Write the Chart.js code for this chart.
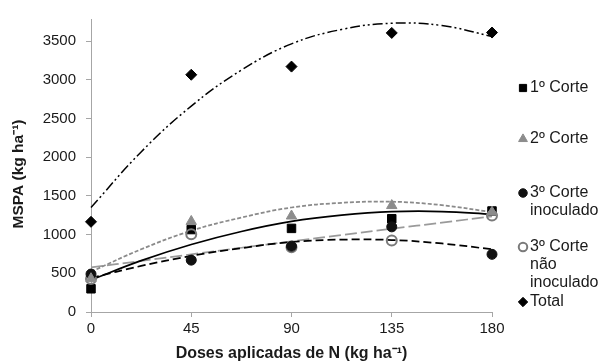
<!DOCTYPE html>
<html>
<head>
<meta charset="utf-8">
<script src="https://cdn.jsdelivr.net/npm/chart.js@4"></script>
<style>
  html, body { margin: 0; padding: 0; background: #fff; }
  #wrap { width: 601px; height: 363px; position: relative; }
</style>
</head>
<body>
<div id="wrap"><canvas id="chart"></canvas></div>
<script>
// === DADOS ===
const doses = [0, 45, 90, 135, 180];
const corte1 = [300, 1065, 1080, 1205, 1305];
const corte2 = [430, 1170, 1240, 1375, 1290];
const corte3Inoc = [490, 670, 850, 1100, 745];
const corte3NaoInoc = [425, 1005, 835, 925, 1245];
const total = [1165, 3065, 3170, 3605, 3610];

// linhas de tendência
const trendX = [0, 22.5, 45, 67.5, 90, 112.5, 135, 157.5, 180];
const trend1 = [413, 663, 872, 1040, 1170, 1251, 1296, 1298, 1262];
const trend2 = [520, 810, 1050, 1220, 1350, 1410, 1425, 1380, 1290];
const trend3Inoc = [440, 595, 725, 825, 905, 935, 930, 885, 810];
const trend3Nao = [575, 660, 745, 830, 912, 995, 1075, 1155, 1235];
const trendTotal = [1350, 2068, 2660, 3125, 3464, 3650, 3730, 3700, 3560];

const xTicks = [0, 45, 90, 135, 180];
const yTicks = [0, 500, 1000, 1500, 2000, 2500, 3000, 3500];

const legendLabels = [
    ['1º Corte'],
    ['2º Corte'],
    ['3º Corte', 'inoculado'],
    ['3º Corte', 'não', 'inoculado'],
    ['Total']
];

const FONT = '"Liberation Sans", Arial, sans-serif';
Chart.defaults.font.family = FONT;
Chart.defaults.color = '#1a1a1a';

const pts = (xs, ys) => xs.map((x, i) => ({ x: x, y: ys[i] }));

const markerStyles = [
    { pointStyle: 'rect', radius: 6, bg: '#000', border: '#000', bw: 1 },
    { pointStyle: 'triangle', radius: 6, bg: '#8c8c8c', border: '#8c8c8c', bw: 1 },
    { pointStyle: 'circle', radius: 5, bg: '#111', border: '#111', bw: 1 },
    { pointStyle: 'circle', radius: 5, bg: 'rgba(255,255,255,0)', border: '#7a7a7a', bw: 2 },
    { pointStyle: 'rectRot', radius: 5.5, bg: '#000', border: '#000', bw: 1 }
];

function scatterSet(ys, m) {
    return {
        data: pts(doses, ys), showLine: false, clip: false,
        pointStyle: m.pointStyle, pointRadius: m.radius,
        pointBackgroundColor: m.bg, pointBorderColor: m.border, pointBorderWidth: m.bw
    };
}
function trendSet(ys, color, dash, width) {
    return {
        data: pts(trendX, ys), showLine: true, pointRadius: 0, clip: false,
        borderColor: color, borderWidth: width, borderDash: dash, tension: 0.4, fill: false
    };
}

// === LEGENDA + TÍTULO Y ===
const legendPos = [88, 139, 193, 247, 302];
const legendPlugin = {
    id: 'legendaLateral',
    afterDraw(chart) {
        const ctx = chart.ctx;
        ctx.save();
        ctx.font = '16px ' + FONT;
        ctx.textBaseline = 'middle';
        legendLabels.forEach((lines, i) => {
            const m = markerStyles[i];
            const y0 = legendPos[i];
            ctx.fillStyle = m.bg;
            ctx.strokeStyle = m.border;
            ctx.lineWidth = m.bw;
            Chart.helpers.drawPoint(ctx, { pointStyle: m.pointStyle, radius: m.radius * 0.85, borderWidth: m.bw, rotation: 0 }, 523, y0);
            ctx.fillStyle = '#1a1a1a';
            lines.forEach((t, j) => ctx.fillText(t, 530, y0 + j * 18));
        });
        ctx.restore();

        // título do eixo Y (um pouco abaixo do centro, como no original)
        ctx.save();
        ctx.translate(19, 174);
        ctx.rotate(-Math.PI / 2);
        ctx.font = 'bold 15.5px ' + FONT;
        ctx.fillStyle = '#1a1a1a';
        ctx.textAlign = 'center';
        ctx.textBaseline = 'middle';
        ctx.fillText('MSPA (kg ha⁻¹)', 0, 0);
        ctx.restore();
    }
};

new Chart(document.getElementById('chart'), {
    type: 'scatter',
    data: {
        datasets: [
            scatterSet(corte2, markerStyles[1]),
            scatterSet(corte3Inoc, markerStyles[2]),
            scatterSet(corte3NaoInoc, markerStyles[3]),
            scatterSet(corte1, markerStyles[0]),
            scatterSet(total, markerStyles[4]),
            trendSet(trend1, '#000', [], 1.75),
            trendSet(trend2, '#8a8a8a', [4, 2], 1.75),
            trendSet(trend3Inoc, '#000', [8, 4], 1.75),
            trendSet(trend3Nao, '#9a9a9a', [12, 4], 1.75),
            trendSet(trendTotal, '#000', [10, 3, 2, 3, 2, 3], 1.5)
        ]
    },
    options: {
        responsive: true,
        maintainAspectRatio: false,
        animation: false,
        devicePixelRatio: 1,
        events: [],
        layout: { padding: { left: 0, right: 109, top: 15, bottom: 0 } },
        plugins: { legend: { display: false }, tooltip: { enabled: false } },
        scales: {
            x: {
                type: 'linear', min: 0, max: 180,
                afterFit: s => { s.height = 51; },
                afterBuildTicks: s => { s.ticks = xTicks.map(v => ({ value: v })); },
                ticks: { font: { size: 15 }, padding: 3, maxRotation: 0, callback: v => String(v) },
                grid: { drawOnChartArea: false, drawTicks: true, tickLength: 5, color: '#a6a6a6' },
                border: { color: '#a6a6a6' },
                title: { display: true, text: 'Doses aplicadas de N (kg ha⁻¹)', font: { size: 16, weight: 'bold' }, padding: { top: 0, bottom: 0 } }
            },
            y: {
                type: 'linear', min: 0, max: 3785,
                afterFit: s => { s.width = 91; },
                afterBuildTicks: s => { s.ticks = yTicks.map(v => ({ value: v })); },
                ticks: { font: { size: 15 }, padding: 10, callback: v => String(v) },
                grid: { drawOnChartArea: false, drawTicks: true, tickLength: 5, color: '#a6a6a6' },
                border: { color: '#a6a6a6' },
                title: { display: false }
            }
        }
    },
    plugins: [legendPlugin]
});
</script>
</body>
</html>
